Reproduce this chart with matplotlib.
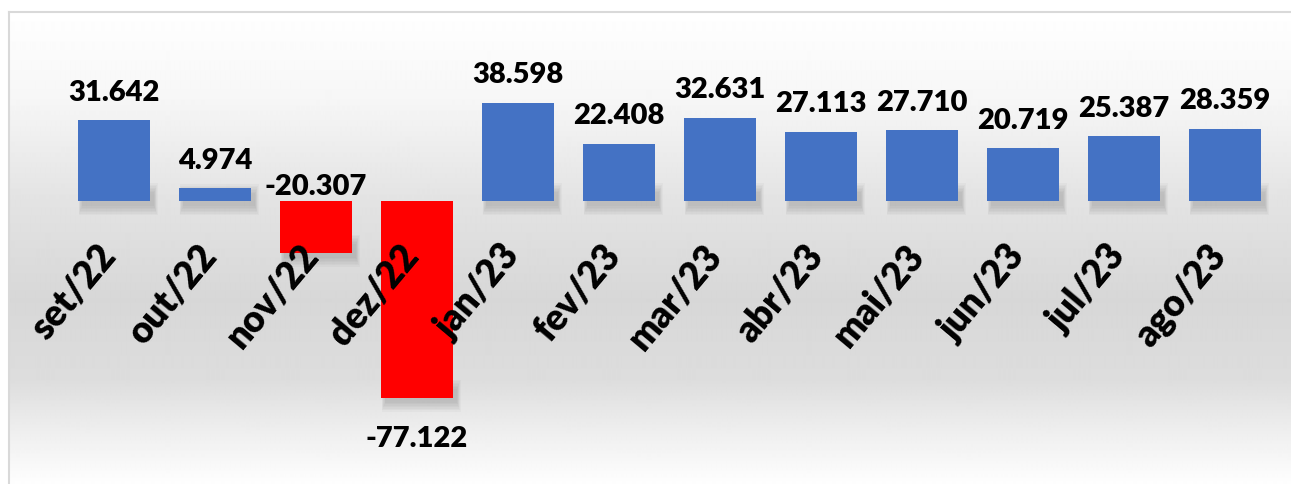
import numpy as np
import matplotlib.pyplot as plt
from matplotlib.lines import Line2D

months = ['set/22', 'out/22', 'nov/22', 'dez/22', 'jan/23', 'fev/23',
          'mar/23', 'abr/23', 'mai/23', 'jun/23', 'jul/23', 'ago/23']
values = [31642, 4974, -20307, -77122, 38598, 22408,
          32631, 27113, 27710, 20719, 25387, 28359]
# negative value whose label sits above the axis line in the original
label_above_axis = ['nov/22']

W, H = 1291, 484
fig = plt.figure(figsize=(W / 100, H / 100), dpi=100)

# background: grey band fading to white at top and bottom
bg = fig.add_axes([9 / W, 0, 1 - 9 / W, (H - 12) / H])
ys = np.arange(12, H)
grey = np.interp(ys, [12, 100, 200, 300, 380, 430, 484],
                 [255, 246, 227, 215, 221, 238, 254])
grad = np.repeat(grey[:, None], 4, axis=1) / 255
bg.imshow(grad, cmap='gray', vmin=0, vmax=1, aspect='auto',
          extent=[0, 1, 0, 1], interpolation='bilinear')
bg.axis('off')

ax = fig.add_axes([63.5 / W, 0, (1275.5 - 63.5) / W, (H - 12) / H])
ax.patch.set_alpha(0)
upp = 1000 / 2.55  # data units per pixel
ax.set_xlim(-0.5, 11.5)
ax.set_ylim(-(H - 201) * upp, (201 - 12) * upp)
for s in ax.spines.values():
    s.set_visible(False)
ax.set_xticks([])
ax.set_yticks([])

x = np.arange(len(months))
colors = ['#4472C4' if v >= 0 else '#FF0000' for v in values]

# soft shadow near the base of the bars
for k in range(7):
    grow = 3 * k * upp
    for i, v in enumerate(values):
        if v >= 0:
            h = min(v, 14 * upp) + grow
            b = -5 * upp - grow / 2
        else:
            h = -(14 * upp + grow)
            b = v + 14 * upp - 5 * upp + grow / 2
        ax.bar(i + 0.04, h, bottom=b, width=0.71 + 0.012 * k,
               color='#000000', alpha=0.022, zorder=1, linewidth=0)
ax.bar(x, values, width=0.71, color=colors, zorder=2, linewidth=0)

fnt = 'Lato'
wt = 'heavy'
for i, (m, v) in enumerate(zip(months, values)):
    txt = f'{v:,}'.replace(',', '.')
    if v >= 0:
        ax.text(i, v + 19.5 * upp, txt, ha='center', va='baseline',
                fontsize=21, fontweight=wt, family=fnt, zorder=3)
    elif m in label_above_axis:
        ax.text(i, 6 * upp, txt, ha='center', va='baseline',
                fontsize=21, fontweight=wt, family=fnt, zorder=3)
    else:
        ax.text(i, v - 49 * upp, txt, ha='center', va='baseline',
                fontsize=21, fontweight=wt, family=fnt, zorder=3)
    ax.text(i + 0.08, -38 * upp, m, rotation=50, ha='right', va='top',
            fontsize=26.5, fontweight=wt, family=fnt, zorder=4)

# chart frame (left and top edges visible)
fig.add_artist(Line2D([8.5 / W, 8.5 / W], [0, 1 - 11.5 / H],
                      color='#d9d9d9', lw=1.5))
fig.add_artist(Line2D([8.5 / W, 1], [1 - 11.5 / H, 1 - 11.5 / H],
                      color='#d9d9d9', lw=1.5))

fig.savefig('out.png', dpi=100, facecolor='white')
